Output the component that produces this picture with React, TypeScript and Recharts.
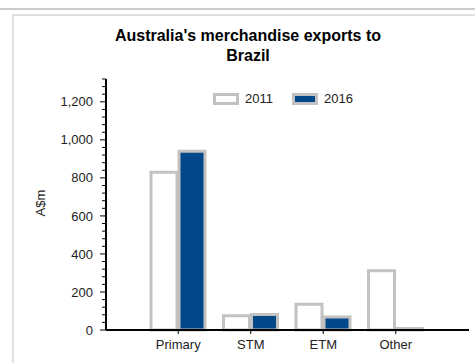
import React from 'react';
import { BarChart, Bar, XAxis, YAxis } from 'recharts';

const categories = ['Primary', 'STM', 'ETM', 'Other'];
const values2011 = [830, 75, 135, 312];
const values2016 = [940, 82, 69, 8];
const seriesNames = ['2011', '2016'];
const majorTicks = [0, 200, 400, 600, 800, 1000, 1200];
const allTicks = [
  0, 40, 80, 120, 160, 200, 240, 280, 320, 360, 400, 440, 480, 520, 560, 600, 640,
  680, 720, 760, 800, 840, 880, 920, 960, 1000, 1040, 1080, 1120, 1160, 1200, 1240,
  1280, 1320,
];

const title = ["Australia's merchandise exports to", 'Brazil'];
const yLabel = 'A$m';

const data = categories.map((c, i) => ({ name: c, y2011: values2011[i], y2016: values2016[i] }));

const FONT = '"Liberation Sans", Arial, sans-serif';
const BLUE = '#03498a';
const GREY = '#c2c2c2';

const YTick = (props: any) => {
  const { x, y, payload } = props;
  const major = majorTicks.includes(payload.value);
  return (
    <g>
      <line x1={x - (major ? 6 : 4)} x2={x} y1={y} y2={y} stroke="#000" strokeWidth={1} />
      {major && (
        <text x={x - 13} y={y} dy="0.355em" textAnchor="end" fontSize={13} fill="#222" fontFamily={FONT}>
          {payload.value.toLocaleString('en-US')}
        </text>
      )}
    </g>
  );
};

export default function App() {
  return (
    <div style={{ position: 'absolute', left: 0, top: 0, width: 475, height: 363, background: '#fff', fontFamily: FONT, overflow: 'hidden' }}>
      <div style={{ position: 'absolute', left: 0, top: 8, width: 475, height: 2, background: '#cbcbcb' }} />
      <div style={{ position: 'absolute', left: 12, top: 14, width: 470, height: 360, borderLeft: '2px solid #e0e0e0', borderTop: '2px solid #e0e0e0' }} />
      <div style={{ position: 'absolute', left: 48, top: 26, width: 400, textAlign: 'center', fontWeight: 'bold', fontSize: 16, lineHeight: '20px', color: '#000' }}>
        {title[0]}
        <br />
        {title[1]}
      </div>
      <div style={{ position: 'absolute', left: 21, top: 195, width: 40, height: 16, lineHeight: '16px', fontSize: 13, color: '#222', textAlign: 'center', transform: 'rotate(-90deg)' }}>
        {yLabel}
      </div>
      <div style={{ position: 'absolute', left: 0, top: 0 }}>
        <BarChart width={475} height={363} data={data} margin={{ top: 79, right: 6, bottom: 0, left: 0 }} barSize={26} barGap={2}>
          <XAxis
            dataKey="name"
            height={33}
            padding={{ left: 36, right: 37 }}
            axisLine={{ stroke: '#000', strokeWidth: 2 }}
            tickLine={{ stroke: '#000' }}
            tickSize={4}
            tickMargin={6}
            tick={{ fontSize: 13, fill: '#222', fontFamily: FONT }}
            interval={0}
          />
          <YAxis
            width={106}
            domain={[0, 1320]}
            ticks={allTicks}
            interval={0}
            tickLine={false}
            tickSize={0}
            tickMargin={0}
            axisLine={{ stroke: '#000', strokeWidth: 2 }}
            tick={<YTick />}
          />
          <Bar dataKey="y2011" name={seriesNames[0]} fill="#fff" stroke={GREY} strokeWidth={3} isAnimationActive={false} />
          <Bar dataKey="y2016" name={seriesNames[1]} fill={BLUE} stroke={GREY} strokeWidth={3} isAnimationActive={false} />
        </BarChart>
      </div>
      <div style={{ position: 'absolute', left: 213, top: 93, width: 26, height: 12, boxSizing: 'border-box', border: `3px solid ${GREY}`, background: '#fff' }} />
      <div style={{ position: 'absolute', left: 245, top: 91, fontSize: 13, lineHeight: '15px', color: '#222' }}>{seriesNames[0]}</div>
      <div style={{ position: 'absolute', left: 292, top: 93, width: 26, height: 12, boxSizing: 'border-box', border: `3px solid ${GREY}`, background: BLUE }} />
      <div style={{ position: 'absolute', left: 324, top: 91, fontSize: 13, lineHeight: '15px', color: '#222' }}>{seriesNames[1]}</div>
    </div>
  );
}
